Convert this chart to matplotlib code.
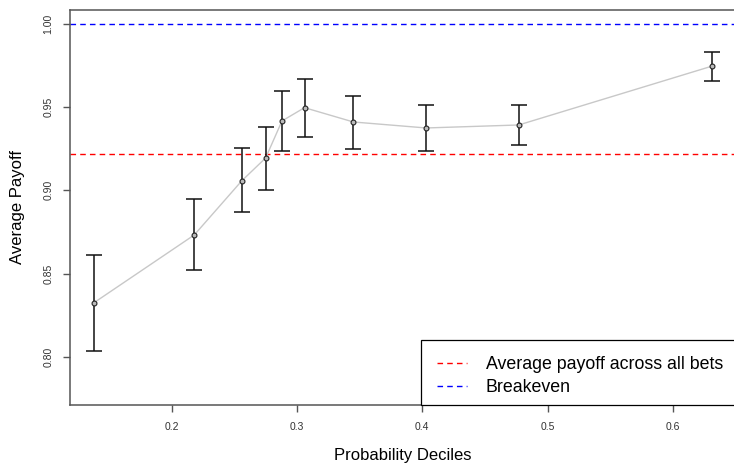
import matplotlib
matplotlib.use("Agg")
import matplotlib.pyplot as plt
from matplotlib.patches import Rectangle
import numpy as np

plt.rcParams['font.family'] = ['Liberation Sans', 'DejaVu Sans']

# probability decile midpoints and average payoff with confidence bounds
decile_x = [0.138, 0.218, 0.256, 0.275, 0.288, 0.306, 0.345, 0.403, 0.477, 0.631]
payoff = [0.8325, 0.8732, 0.9058, 0.9195, 0.9417, 0.9497, 0.9411, 0.9375, 0.9393, 0.9746]
upper = [0.8612, 0.8950, 0.9255, 0.9381, 0.9600, 0.9671, 0.9567, 0.9513, 0.9513, 0.9834]
lower = [0.8035, 0.8520, 0.8868, 0.9004, 0.9235, 0.9320, 0.9247, 0.9235, 0.9273, 0.9656]

avg_payoff = 0.9217
breakeven = 1.0

x_ticks = [0.2, 0.3, 0.4, 0.5, 0.6]
y_ticks = [0.80, 0.85, 0.90, 0.95, 1.00]

W, H = 734, 465
fig = plt.figure(figsize=(W / 100, H / 100), dpi=100)
ax = fig.add_axes([70 / W, 60 / H, 666.7 / W, 395 / H])

y = np.array(payoff)
yerr = [y - np.array(lower), np.array(upper) - y]

ax.plot(decile_x, payoff, color='#c8c8c8', lw=1, zorder=2)
ax.errorbar(decile_x, payoff, yerr=yerr, fmt='none', ecolor='#111111',
            elinewidth=1.1, capsize=5.75, capthick=1.1, zorder=3)
ax.plot(decile_x, payoff, 'o', ms=3.5, mfc='#bbbbbb', mec='#222222', mew=0.8, zorder=4)

l1 = ax.axhline(avg_payoff, color='red', ls=(0, (4, 3)), lw=1, zorder=1)
l2 = ax.axhline(breakeven, color='blue', ls=(0, (4, 3)), lw=1, zorder=1)

ax.set_xlim(0.1188, 0.651)
ax.set_ylim(0.771, 1.0084)

ax.set_xticks(x_ticks)
ax.set_xticklabels(['%.1f' % v for v in x_ticks])
ax.set_yticks(y_ticks)
ax.set_yticklabels(['%.2f' % v for v in y_ticks], rotation=90, va='center')
ax.tick_params(direction='out', length=5, width=1, color='#555555',
               labelsize=7.5, labelcolor='#333333', pad=7)

for s in ax.spines.values():
    s.set_color('#555555')
    s.set_linewidth(1.1)

# legend box, which runs past the right edge like the original
ax.add_patch(Rectangle((420.7 / W, 60 / H), 330 / W, 65 / H,
                       transform=fig.transFigure, facecolor='white',
                       edgecolor='black', lw=0.9, zorder=5, clip_on=False))
leg = ax.legend([l1, l2], ['Average payoff across all bets', 'Breakeven'],
                loc='upper left', bbox_to_anchor=(436.7 / W, 1 - 356 / H),
                bbox_transform=fig.transFigure, borderaxespad=0, borderpad=0,
                frameon=False, fontsize=12.8, handlelength=1.7,
                handletextpad=1.05, labelspacing=0.35)
leg.set_zorder(6)

fig.text(403 / W, 1 - 455 / H, 'Probability Deciles', fontsize=12,
         ha='center', va='center')
fig.text(18 / W, 1 - 207 / H, 'Average Payoff', fontsize=12, rotation=90,
         ha='center', va='center')

fig.savefig('out.png', dpi=100)
